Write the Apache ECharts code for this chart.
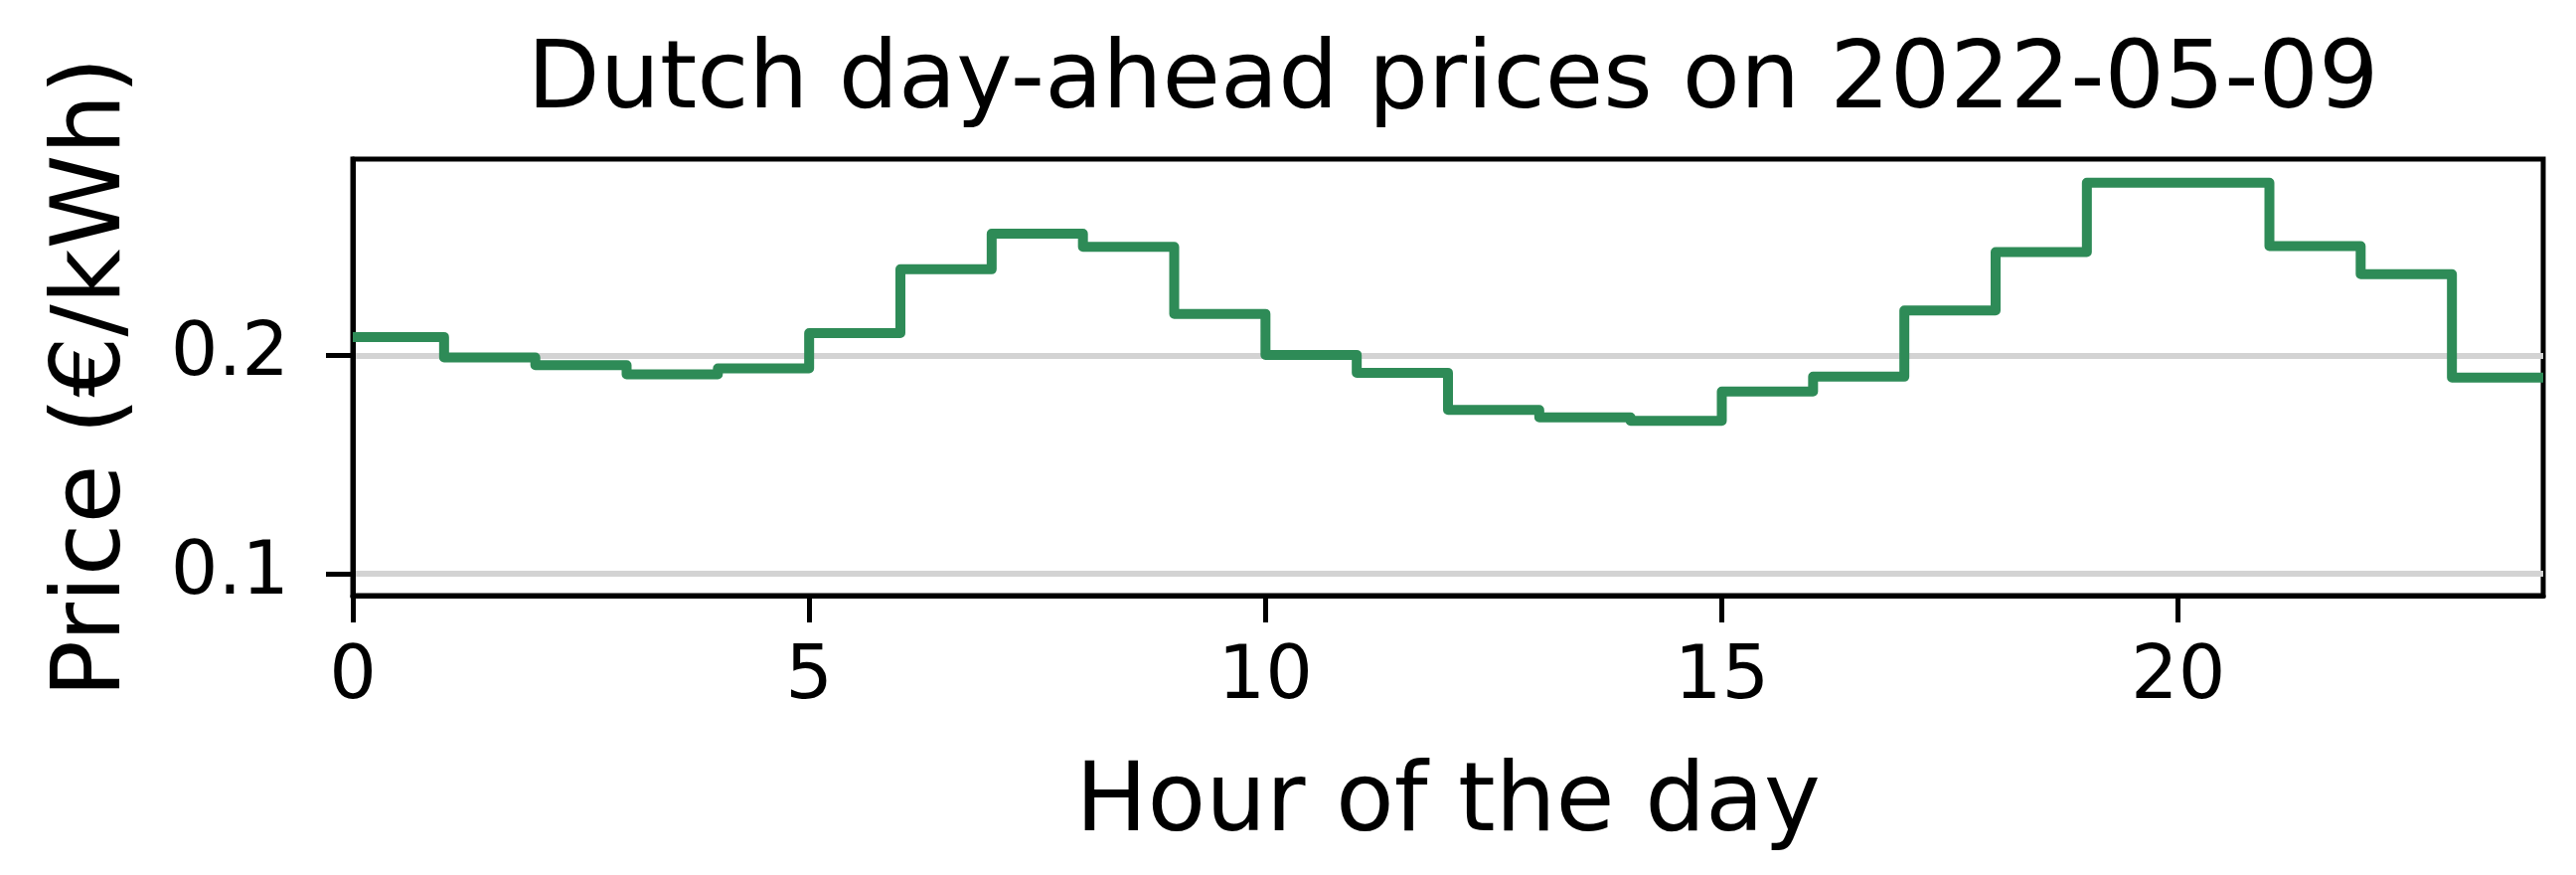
<!DOCTYPE html>
<html>
<head>
<meta charset="utf-8">
<title>Dutch day-ahead prices</title>
<script src="https://cdn.jsdelivr.net/npm/echarts@6/dist/echarts.min.js"></script>
<style>
  html, body { margin: 0; padding: 0; background: #fff; }
  #chart { width: 2592px; height: 880px; }
</style>
</head>
<body>
<div id="chart"></div>
<script>
// hourly prices (EUR/kWh)
const hours = [0, 1, 2, 3, 4, 5, 6, 7, 8, 9, 10, 11, 12, 13, 14, 15, 16, 17, 18, 19, 20, 21, 22, 23]
const prices = [0.2085, 0.1991, 0.1956, 0.1914, 0.1941, 0.2103, 0.2395, 0.2558, 0.2498, 0.2191,
  0.2003, 0.1921, 0.1751, 0.1717, 0.1701, 0.1835, 0.1903, 0.2206, 0.2474, 0.2792,
  0.2792, 0.2501, 0.2373, 0.1899]
const xTicks = [0, 5, 10, 15, 20]
const yTicks = [0.1, 0.2]

const font = 'DejaVu Sans'

// step "post": each hour's price holds until the next hour, last one until 24
let stepData = hours.map((h, i) => [h, prices[i]])
stepData.push([24, prices[prices.length - 1]])

let chart = echarts.init(document.getElementById('chart'), null, { renderer: 'canvas' })

let option = {
  backgroundColor: '#fff',
  animation: false,
  title: {
    text: 'Dutch day-ahead prices on 2022-05-09',
    left: 1457,
    top: 31,
    textAlign: 'center',
    textStyle: { fontFamily: font, fontSize: 95, fontWeight: 'normal', color: '#000' }
  },
  grid: {
    left: 355,
    right: 33,
    top: 160,
    bottom: 281,
    show: true,
    borderColor: '#000',
    borderWidth: 5,
    containLabel: false
  },
  xAxis: {
    type: 'value',
    min: 0,
    max: 24,
    name: 'Hour of the day',
    nameLocation: 'middle',
    nameGap: 163,
    nameTextStyle: { fontFamily: font, fontSize: 96, color: '#000' },
    axisLine: { show: true, onZero: false, lineStyle: { color: '#000', width: 5 } },
    axisTick: { show: true, customValues: xTicks, length: 27, lineStyle: { color: '#000', width: 5 } },
    axisLabel: { customValues: xTicks, margin: 46, fontFamily: font, fontSize: 75, color: '#000' },
    splitLine: { show: false }
  },
  yAxis: {
    type: 'value',
    min: 0.09,
    max: 0.29,
    name: 'Price (€/kWh)',
    nameLocation: 'middle',
    nameGap: 212,
    nameTextStyle: { fontFamily: font, fontSize: 96, color: '#000' },
    axisLine: { show: true, onZero: false, lineStyle: { color: '#000', width: 5 } },
    axisTick: { show: true, customValues: yTicks, length: 27, lineStyle: { color: '#000', width: 5 } },
    axisLabel: { customValues: yTicks, margin: 64, fontFamily: font, fontSize: 75, color: '#000' },
    splitLine: { show: true, lineStyle: { color: '#d3d3d3', width: 6 } }
  },
  series: [
    {
      type: 'line',
      step: 'end',
      data: stepData,
      showSymbol: false,
      lineStyle: { color: '#2e8b57', width: 10, join: 'round' },
      clip: true
    }
  ]
}

chart.setOption(option)
</script>
</body>
</html>
